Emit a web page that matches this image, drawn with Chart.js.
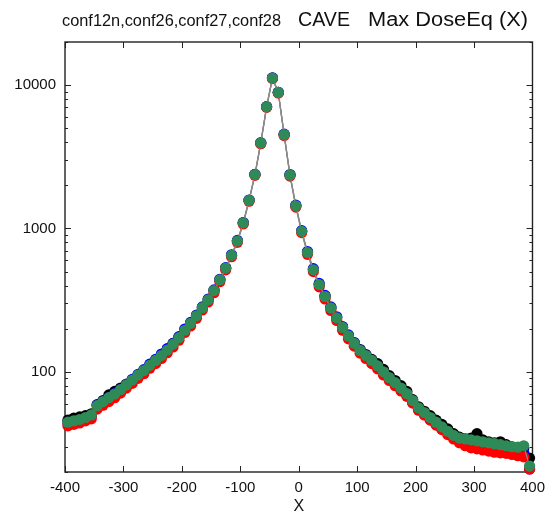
<!DOCTYPE html>
<html>
<head>
<meta charset="utf-8">
<script src="https://cdn.jsdelivr.net/npm/chart.js@4.4.1/dist/chart.umd.min.js"></script>
<style>
  html, body { margin: 0; padding: 0; background: #fff; }
  #wrap { width: 552px; height: 514px; }
</style>
</head>
<body>
<div id="wrap"><canvas id="chart" width="552" height="514"></canvas></div>
<script>
// --- DATA ---
const xValues = [
  -395, -385, -375, -365, -355, -345, -335, -325, -315, -305,
  -295, -285, -275, -265, -255, -245, -235, -225, -215, -205,
  -195, -185, -175, -165, -155, -145, -135, -125, -115, -105,
  -95, -85, -75, -65, -55, -45, -35, -25, -15, -5,
  5, 15, 25, 35, 45, 55, 65, 75, 85, 95,
  105, 115, 125, 135, 145, 155, 165, 175, 185, 195,
  205, 215, 225, 235, 245, 255, 265, 275, 285, 295,
  305, 315, 325, 335, 345, 355, 365, 375, 385, 395
];

// conf12n (black)
const conf12n = [
  46, 47.5, 48.5, 49.5, 51, 59, 63, 69, 73, 77,
  82, 88, 95, 102.5, 111, 120, 131, 144, 158, 175,
  196, 218, 246, 280, 318, 369, 438, 529, 649, 817,
  1094, 1573, 2380, 3950, 7060, 11200, 8890, 4520, 2360, 1440,
  955, 680, 515, 406, 335, 279, 238, 204, 179, 159,
  143, 132, 122, 114, 104, 94, 87, 80, 73, 64,
  57, 53, 49.5, 46, 43, 40, 37, 35, 34, 34.5,
  37, 33.5, 32.5, 32, 32.5, 31, 30, 29.5, 29, 25
];

// conf26 (blue)
const conf26 = [
  44, 44.5, 45.5, 47, 49, 58.5, 62, 66, 70.5, 75.5,
  81.5, 88.5, 96, 103.5, 113, 122, 133, 145, 158, 176,
  199, 221, 249, 284, 322, 373, 442, 533, 655, 825,
  1100, 1580, 2390, 3960, 7080, 11250, 8920, 4550, 2380, 1455,
  965, 690, 525, 414, 341, 284, 242, 207, 181, 160,
  142, 130, 120, 110, 99, 90, 83, 76, 69, 61,
  54.5, 50.5, 46.5, 43, 40, 37.5, 35, 33, 31.5, 30.5,
  30, 29.5, 29, 28.8, 28.5, 28.2, 28, 27.8, 27.5, 21
];

// conf27 (red)
const conf27 = [
  42, 43, 44, 45.5, 47, 55, 58.5, 62, 66, 71,
  77, 83, 90, 97, 106, 114, 124, 136, 149, 166,
  188, 209, 236, 270, 307, 356, 425, 515, 635, 800,
  1075, 1550, 2350, 3900, 7000, 11100, 8800, 4450, 2320, 1410,
  935, 660, 500, 392, 322, 268, 228, 195, 170, 151,
  135, 124, 114, 105, 95, 87, 80, 73.5, 67.5, 60.5,
  54, 50, 46, 42.5, 39.5, 36.5, 34, 32, 30.5, 29.5,
  29, 28.5, 28, 27.5, 27.2, 27, 26.5, 26, 25.5, 21
];

// conf28 (green)
const conf28 = [
  44.5, 45.5, 46.5, 48, 50, 58, 62, 66, 70, 75,
  81, 87.5, 95, 102, 111, 120, 130, 142, 156, 173,
  195, 218, 246, 280, 318, 369, 438, 529, 649, 817,
  1094, 1573, 2380, 3950, 7060, 11200, 8890, 4520, 2360, 1440,
  955, 680, 515, 406, 335, 279, 238, 204, 178, 158,
  141, 130, 120, 110, 100, 91, 84, 77, 70.5, 63,
  56, 52, 48, 44.5, 41.3, 38.5, 36, 34.5, 34, 33.5,
  33, 32.5, 32, 31.5, 31, 30.5, 30, 29.8, 30.5, 22
];

const xTicks = [-400, -300, -200, -100, 0, 100, 200, 300, 400];
const yTicks = [100, 1000, 10000];
const yMin = 20, yMax = 20000;

const FONT = '"Liberation Sans", Arial, Helvetica, sans-serif';

function series(values) {
  return xValues.map((x, i) => ({ x: x, y: values[i] }));
}

function makeSet(label, values, color, order) {
  return {
    label: label,
    data: series(values),
    borderColor: '#8a8a8a',
    borderWidth: 1.2,
    pointRadius: 5.6,
    pointHoverRadius: 5.6,
    pointBackgroundColor: color,
    pointBorderColor: color,
    pointBorderWidth: 0,
    tension: 0,
    clip: false,
    order: order
  };
}

// text drawn to the width it takes in the picture
function fitText(ctx, text, x, y, width) {
  const w = ctx.measureText(text).width;
  ctx.save();
  ctx.translate(x, y);
  ctx.scale(width / w, 1);
  ctx.fillText(text, 0, 0);
  ctx.restore();
}

// frame, inward ticks, title and axis label
const framePlugin = {
  id: 'frame',
  beforeDatasetsDraw(chart) {
    const { ctx, chartArea: a, scales } = chart;
    ctx.save();
    ctx.strokeStyle = '#222';
    ctx.lineWidth = 1.4;
    ctx.strokeRect(a.left, a.top, a.right - a.left, a.bottom - a.top);

    ctx.lineWidth = 1;
    ctx.beginPath();
    xTicks.forEach(v => {
      const px = Math.round(scales.x.getPixelForValue(v)) + 0.5;
      ctx.moveTo(px, a.bottom); ctx.lineTo(px, a.bottom - 6);
      ctx.moveTo(px, a.top); ctx.lineTo(px, a.top + 6);
    });
    for (let dec = 10; dec <= 10000; dec *= 10) {
      for (let m = 1; m <= 9; m++) {
        const v = dec * m;
        if (v < yMin || v > yMax) continue;
        const len = m === 1 ? 6 : 3;
        const py = Math.round(scales.y.getPixelForValue(v)) + 0.5;
        ctx.moveTo(a.left, py); ctx.lineTo(a.left + len, py);
        ctx.moveTo(a.right, py); ctx.lineTo(a.right - len, py);
      }
    }
    ctx.stroke();
    ctx.restore();
  },
  afterDraw(chart) {
    const { ctx, chartArea: a } = chart;
    ctx.save();
    ctx.fillStyle = '#111';
    ctx.textBaseline = 'alphabetic';
    ctx.textAlign = 'left';
    ctx.font = '16px ' + FONT;
    fitText(ctx, 'conf12n,conf26,conf27,conf28', 62, 26, 219);
    ctx.font = '20px ' + FONT;
    fitText(ctx, 'CAVE', 298, 26, 52);
    fitText(ctx, 'Max DoseEq (X)', 368, 26, 160);

    ctx.font = '16px ' + FONT;
    ctx.textAlign = 'center';
    ctx.textBaseline = 'middle';
    ctx.fillText('X', (a.left + a.right) / 2, 507);
    ctx.restore();
  }
};

new Chart(document.getElementById('chart'), {
  type: 'line',
  data: {
    datasets: [
      makeSet('conf28', conf28, '#2e8b57', 0),
      makeSet('conf27', conf27, '#ff0000', 1),
      makeSet('conf26', conf26, '#0000ff', 2),
      makeSet('conf12n', conf12n, '#000000', 3)
    ]
  },
  options: {
    responsive: false,
    animation: false,
    events: [],
    layout: { padding: { top: 42, right: 15, left: 0, bottom: 0 } },
    plugins: { legend: { display: false }, tooltip: { enabled: false }, title: { display: false } },
    scales: {
      x: {
        type: 'linear',
        min: -400,
        max: 400,
        afterBuildTicks: s => { s.ticks = xTicks.map(v => ({ value: v })); },
        afterFit: s => { s.height = 42; },
        grid: { display: false, drawTicks: false },
        border: { display: false },
        ticks: { color: '#111', padding: 7, maxRotation: 0, font: { family: FONT, size: 15 } }
      },
      y: {
        type: 'logarithmic',
        min: yMin,
        max: yMax,
        afterBuildTicks: s => { s.ticks = yTicks.map(v => ({ value: v })); },
        afterFit: s => { s.width = 65; },
        grid: { display: false, drawTicks: false },
        border: { display: false },
        ticks: { color: '#111', padding: 9, font: { family: FONT, size: 15 }, callback: v => String(v) }
      }
    }
  },
  plugins: [framePlugin]
});
</script>
</body>
</html>
